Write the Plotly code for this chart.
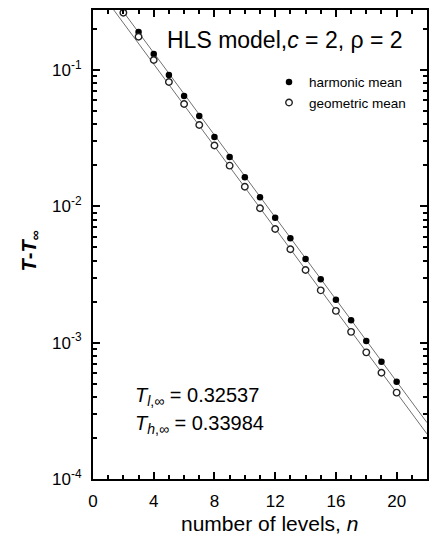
import plotly.graph_objects as go

# data
levels = list(range(2, 21))
harmonic_mean = [0.280, 0.190, 0.131, 0.0919, 0.0645, 0.0460, 0.0323, 0.0230, 0.01633,
                 0.01164, 0.00826, 0.00583, 0.00411, 0.00292, 0.00206, 0.00146, 0.00103,
                 0.000725, 0.000517]
geometric_mean = [0.263, 0.1755, 0.1184, 0.0817, 0.0563, 0.0395, 0.0279, 0.01987, 0.01393,
                  0.00967, 0.00682, 0.00484, 0.00341, 0.00242, 0.00171, 0.00120, 0.000849,
                  0.000602, 0.000430]
fit_n = [1.0, 22.0]
harmonic_fit = [0.378, 0.000259]
geometric_fit = [0.313, 0.000214]

x_ticks = [0, 4, 8, 12, 16, 20]
y_ticks = [1e-4, 1e-3, 1e-2, 1e-1]
y_ticktext = ["10<sup>-4</sup>", "10<sup>-3</sup>", "10<sup>-2</sup>", "10<sup>-1</sup>"]
y_minor = [k * 10.0 ** e for e in (-4, -3, -2, -1) for k in range(2, 10)]

FONT = "Liberation Sans, Arial, sans-serif"

fig = go.Figure()
fig.add_trace(go.Scatter(x=fit_n, y=harmonic_fit, mode="lines",
                         line=dict(color="#606060", width=0.9), showlegend=False,
                         hoverinfo="skip"))
fig.add_trace(go.Scatter(x=fit_n, y=geometric_fit, mode="lines",
                         line=dict(color="#606060", width=0.9), showlegend=False,
                         hoverinfo="skip"))
fig.add_trace(go.Scatter(x=levels, y=harmonic_mean, mode="markers", name="harmonic mean",
                         marker=dict(symbol="circle", size=6.5, color="black")))
fig.add_trace(go.Scatter(x=levels, y=geometric_mean, mode="markers", name="geometric mean",
                         marker=dict(symbol="circle", size=6.5, color="white",
                                     line=dict(color="#222222", width=1.4))))

axis_common = dict(showline=True, linecolor="black", linewidth=2, mirror="allticks",
                   ticks="inside", tickcolor="black", tickwidth=1.5, ticklen=7,
                   showgrid=False, zeroline=False,
                   tickfont=dict(family=FONT, size=17, color="black"))

fig.update_xaxes(range=[0, 22], tickvals=x_ticks, ticklabelstandoff=6,
                 minor=dict(dtick=1, tick0=0, ticks="inside", ticklen=4, tickwidth=1.5,
                            tickcolor="black", showgrid=False),
                 **axis_common)
fig.update_yaxes(type="log", range=[-4, -0.56], tickvals=y_ticks, ticktext=y_ticktext,
                 ticklabelstandoff=6,
                 minor=dict(tickvals=y_minor, ticks="inside", ticklen=4, tickwidth=1.5,
                            tickcolor="black", showgrid=False),
                 **axis_common)

annotations = [
    dict(text="HLS model,<i>c</i> = 2, ρ = 2", x=0.576, y=0.936, xref="paper", yref="paper",
         xanchor="center", yanchor="middle",
         showarrow=False, font=dict(family=FONT, size=23, color="black")),
    dict(text="<i>T</i><sub><i>l</i>,∞</sub> = 0.32537", x=0.119, y=0.175, xref="paper",
         yref="paper", xanchor="left", yanchor="middle", showarrow=False,
         font=dict(family=FONT, size=20, color="black")),
    dict(text="<i>T</i><sub><i>h</i>,∞</sub> = 0.33984", x=0.119, y=0.117, xref="paper",
         yref="paper", xanchor="left", yanchor="middle", showarrow=False,
         font=dict(family=FONT, size=20, color="black")),
    dict(text="number of levels, <i>n</i>", x=0.527, y=-0.094, xref="paper", yref="paper",
         xanchor="center", yanchor="middle",
         showarrow=False, font=dict(family=FONT, size=21, color="black")),
    dict(text="<b><i>T</i>-<i>T</i><sub>∞</sub></b>", x=-0.1875, y=0.486, xref="paper",
         yref="paper", xanchor="center", yanchor="middle", textangle=-90, showarrow=False,
         font=dict(family=FONT, size=20, color="black")),
]

fig.update_layout(
    width=432, height=545,
    margin=dict(l=93, r=3, t=10, b=66),
    paper_bgcolor="white", plot_bgcolor="white",
    font=dict(family=FONT, color="black"),
    annotations=annotations,
    legend=dict(x=0.527, y=0.879, xanchor="left", yanchor="top",
                bgcolor="rgba(0,0,0,0)", font=dict(family=FONT, size=13.5, color="black"),
                itemwidth=30, tracegroupgap=0),
)

fig.write_html("out.html")
